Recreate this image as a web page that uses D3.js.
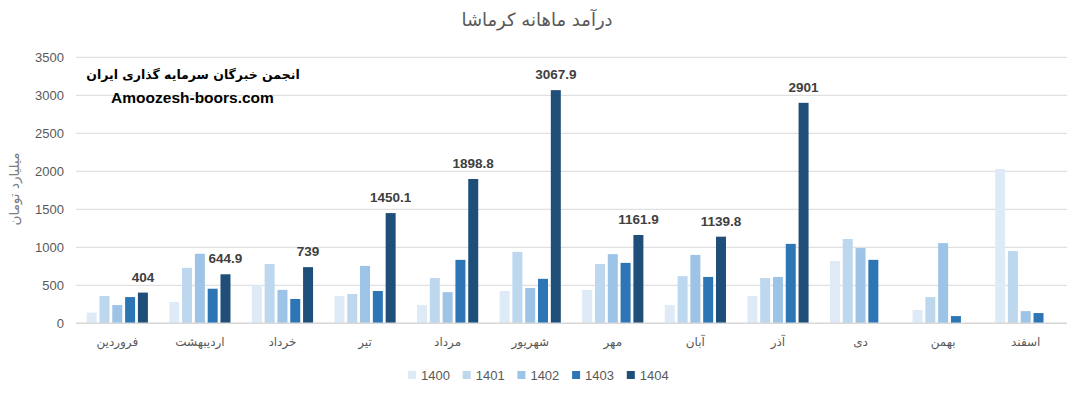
<!DOCTYPE html>
<html><head><meta charset="utf-8">
<script src="https://cdn.jsdelivr.net/npm/d3@7"></script>
<style>
html,body{margin:0;padding:0;background:#fff;}
svg{display:block;font-family:"Liberation Sans",Arial,sans-serif;}
</style></head>
<body><svg id="c" width="1081" height="396"></svg>
<script>
const months = ["فروردین","اردیبهشت","خرداد","تیر","مرداد","شهریور","مهر","آبان","آذر","دی","بهمن","اسفند"];
const seriesNames = ["1400","1401","1402","1403","1404"];
const s1400 = [140, 280, 500, 360, 240, 425, 440, 240, 360, 820, 175, 2030];
const s1401 = [360, 730, 780, 385, 595, 940, 780, 620, 595, 1110, 345, 950];
const s1402 = [240, 915, 440, 755, 410, 465, 910, 900, 610, 990, 1055, 160];
const s1403 = [345, 455, 320, 425, 835, 585, 795, 610, 1045, 835, 95, 135];
const s1404 = [404, 644.9, 739, 1450.1, 1898.8, 3067.9, 1161.9, 1139.8, 2901, null, null, null];
const yTicks = [0, 500, 1000, 1500, 2000, 2500, 3000, 3500];
const colors = ["#deebf7","#bdd7ee","#9dc3e6","#2e75b6","#1f4e79"];
const allSeries = [s1400, s1401, s1402, s1403, s1404];

const svg = d3.select("#c");
const L = 76, R = 1067, T = 57.3, B = 323.3;

const x0 = d3.scaleBand().domain(months).range([L, R]).padding(0);
const x1 = d3.scaleBand().domain(seriesNames).range([0, x0.bandwidth()])
  .paddingInner(0.22).paddingOuter(0.835);
const y = d3.scaleLinear().domain([0, 3500]).range([B, T]);

// gridlines
svg.append("g").selectAll("line").data(yTicks).join("line")
  .attr("x1", L).attr("x2", R)
  .attr("y1", d => y(d)).attr("y2", d => y(d))
  .attr("stroke", "#d9d9d9").attr("stroke-width", 1);

// y axis labels
const yAxis = d3.axisLeft(y).tickValues(yTicks).tickFormat(d3.format("d")).tickSize(0).tickPadding(0);
const ya = svg.append("g").attr("transform", `translate(${L-12},0)`).call(yAxis);
ya.select(".domain").remove();
ya.selectAll("text").attr("font-size", 13).attr("fill", "#595959")
  .attr("font-family", "Liberation Sans, Arial, sans-serif");

// bars
const groups = svg.append("g").selectAll("g").data(months).join("g")
  .attr("transform", d => `translate(${x0(d)},0)`);
groups.selectAll("rect")
  .data((m, i) => seriesNames.map((s, k) => ({s, k, v: allSeries[k][i]})).filter(d => d.v != null))
  .join("rect")
  .attr("x", d => x1(d.s))
  .attr("width", x1.bandwidth())
  .attr("y", d => y(d.v))
  .attr("height", d => y(0) - y(d.v))
  .attr("fill", d => colors[d.k]);

// data labels for 1404
groups.filter((m, i) => s1404[i] != null).append("text")
  .attr("x", x1("1404") + x1.bandwidth() / 2)
  .attr("y", (m, i) => y(s1404[months.indexOf(m)]) - 11)
  .attr("text-anchor", "middle")
  .attr("font-size", 13.5).attr("font-weight", "bold").attr("fill", "#404040")
  .text(m => String(s1404[months.indexOf(m)]));

// x axis line
svg.append("line").attr("x1", L).attr("x2", R).attr("y1", y(0)).attr("y2", y(0))
  .attr("stroke", "#d9d9d9").attr("stroke-width", 1.5);

// x axis labels
const xAxis = d3.axisBottom(x0).tickSize(0).tickPadding(0);
const xa = svg.append("g").attr("transform", `translate(0,${B + 14})`).call(xAxis);
xa.select(".domain").remove();
xa.selectAll("text").attr("font-size", 12).attr("fill", "#595959")
  .attr("font-family", "DejaVu Sans, Noto Sans, sans-serif").attr("direction", "rtl");

// title
svg.append("text").attr("x", 537).attr("y", 26).attr("text-anchor", "middle")
  .attr("font-size", 18).attr("fill", "#595959")
  .attr("font-family", "DejaVu Sans, Noto Sans, sans-serif")
  .text("درآمد ماهانه کرماشا");

// y axis title
svg.append("text").attr("transform", "translate(19,189) rotate(-90)")
  .attr("text-anchor", "middle").attr("font-size", 13.5).attr("fill", "#7f7f7f")
  .attr("font-family", "DejaVu Sans, Noto Sans, sans-serif")
  .text("میلیارد تومان");

// watermark
svg.append("text").attr("x", 193).attr("y", 79).attr("text-anchor", "middle")
  .attr("font-size", 12.5).attr("font-weight", "bold").attr("fill", "#000")
  .attr("font-family", "DejaVu Sans, Noto Sans, sans-serif")
  .text("انجمن خبرگان سرمایه گذاری ایران");
svg.append("text").attr("x", 192.5).attr("y", 103).attr("text-anchor", "middle")
  .attr("font-size", 15.5).attr("font-weight", "bold").attr("fill", "#000")
  .text("Amoozesh-boors.com");

// legend
const lg = svg.append("g").selectAll("g").data(seriesNames).join("g")
  .attr("transform", (d, i) => `translate(${408 + i * 54.7},371)`);
lg.append("rect").attr("width", 8).attr("height", 8).attr("fill", (d, i) => colors[i]);
lg.append("text").attr("x", 13).attr("y", 8.5).attr("font-size", 13).attr("fill", "#595959")
  .text(d => d);
</script></body></html>
